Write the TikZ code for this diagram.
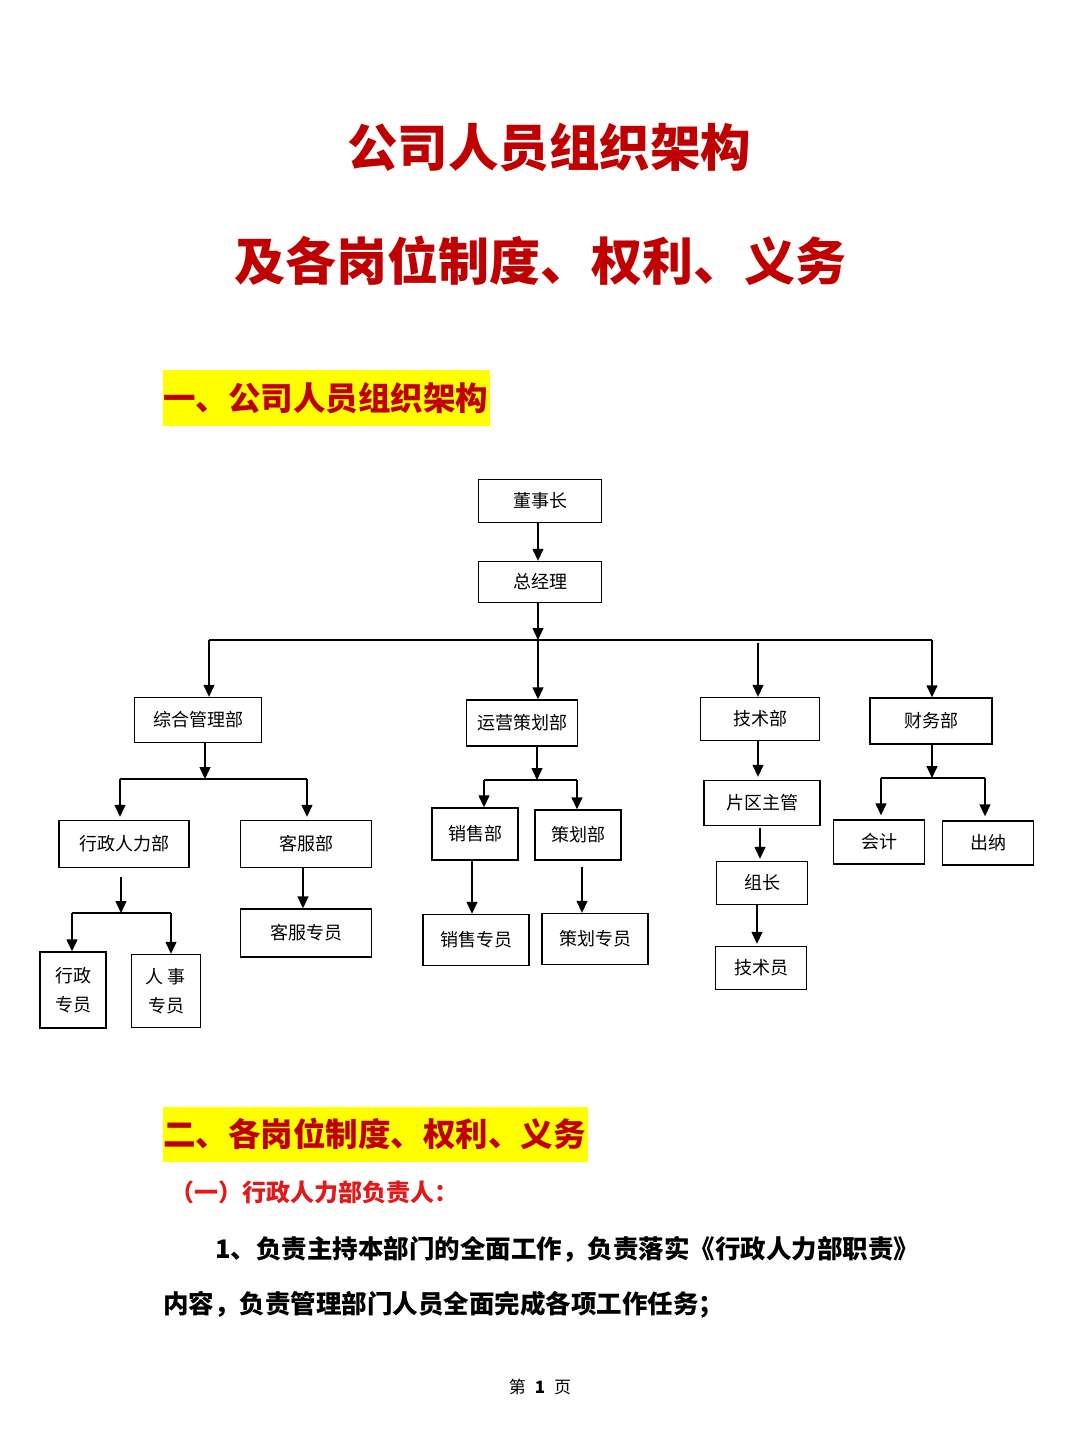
\documentclass[tikz,border=0pt]{standalone}
\usepackage{fontspec}
\newfontfamily\cjk{Noto Sans CJK SC}
\usepackage{tikz}
\usetikzlibrary{arrows.meta,positioning}
\definecolor{titlered}{RGB}{192,0,0}
\definecolor{subred}{RGB}{228,24,24}
\definecolor{hlyellow}{RGB}{255,255,0}

\begin{document}
\begin{tikzpicture}[x=1pt,y=-1pt,
    box/.style={draw, line width=1.4pt, inner sep=0pt, align=center,
        font=\cjk\fontsize{18}{29}\selectfont},
    arr/.style={-{Triangle[width=11pt,length=12pt]}, line width=1.4pt},
    bus/.style={line width=1.4pt},
    headline/.style={fill=hlyellow, inner xsep=0pt, inner ysep=0pt, anchor=west, align=left,
        text=titlered, font=\cjk\bfseries\fontsize{32.5}{36}\selectfont}]
    \useasboundingbox[fill=white] (0,0) rectangle (1080,1440);

    % titles
    \node[text=titlered, font=\cjk\bfseries\fontsize{50.5}{60}\selectfont] (title1) at (549,147) {公司人员组织架构};
    \node[text=titlered, font=\cjk\bfseries\fontsize{51}{60}\selectfont] (title2) at (540,261) {及各岗位制度、权利、义务};
    \node[headline, minimum height=56pt, text width=327pt] (head1) at (163,398) {一、公司人员组织架构};

    % top of the chart
    \node[box, minimum width=123pt, minimum height=43pt] (dongshi) at (540,501) {董事长};
    \node[box, minimum width=123pt, minimum height=41pt] (zongjl) at (540,582) {总经理};

    \node[box, minimum width=127pt, minimum height=45pt] (zonghe) at (198,720) {综合管理部};
    \node[box, minimum width=111pt, minimum height=46pt] (yunying) at (522,723) {运营策划部};
    \node[box, minimum width=119pt, minimum height=43pt] (jishu) at (760,719) {技术部};
    \node[box, minimum width=122pt, minimum height=46pt] (caiwu) at (931,721) {财务部};

    % second level
    \node[box, minimum width=130pt, minimum height=47pt] (xingzheng) at (124,844) {行政人力部};
    \node[box, minimum width=131pt, minimum height=47pt] (kefu) at (306,844) {客服部};
    \node[box, minimum width=66pt, minimum height=76pt] (xzzy) at (73,990) {行政\\专员};
    \node[box, minimum width=69pt, minimum height=73pt] (rszy) at (166,991) {人 事\\专员};
    \node[box, minimum width=131pt, minimum height=48pt] (kfzy) at (306,933) {客服专员};

    \node[box, minimum width=86pt, minimum height=52pt] (xiaoshou) at (475,834) {销售部};
    \node[box, minimum width=86pt, minimum height=50pt] (cehua) at (578,835) {策划部};
    \node[box, minimum width=106pt, minimum height=51pt] (xszy) at (476,940) {销售专员};
    \node[box, minimum width=106pt, minimum height=51pt] (chzy) at (595,939) {策划专员};

    \node[box, minimum width=116pt, minimum height=45pt] (pianqu) at (762,803) {片区主管};
    \node[box, minimum width=91pt, minimum height=43pt] (zuzhang) at (762,883) {组长};
    \node[box, minimum width=91pt, minimum height=43pt] (jishuyuan) at (761,968) {技术员};

    \node[box, minimum width=91pt, minimum height=44pt] (kuaiji) at (879,842) {会计};
    \node[box, minimum width=91pt, minimum height=44pt] (chuna) at (988,843) {出纳};

    % bus lines
    \coordinate (b0) at (538,640);
    \coordinate (b0L) at (209,640);
    \coordinate (b0R) at (932,640);
    \coordinate (b0J) at (758,643);
    \coordinate (b1) at (205,779);
    \coordinate (b1L) at (120,779);
    \coordinate (b1R) at (307,779);
    \coordinate (b2) at (121,913);
    \coordinate (b2L) at (72,913);
    \coordinate (b2R) at (171,913);
    \coordinate (b3) at (537,780);
    \coordinate (b3L) at (484,780);
    \coordinate (b3R) at (577,780);
    \coordinate (b4) at (932,778);
    \coordinate (b4L) at (881,778);
    \coordinate (b4R) at (985,778);

    \draw[bus] (b0L) -- (b0R);
    \draw[bus] (b1L) -- (b1R);
    \draw[bus] (b2L) -- (b2R);
    \draw[bus] (b3L) -- (b3R);
    \draw[bus] (b4L) -- (b4R);

    % arrows
    \draw[arr] (dongshi.south -| b0) -- (zongjl.north -| b0);
    \draw[arr] (zongjl.south -| b0) -- (b0);
    \draw[arr] (b0L) -- (b0L |- zonghe.north);
    \draw[arr] (b0) -- (b0 |- yunying.north);
    \draw[arr] (b0J) -- (b0J |- jishu.north);
    \draw[arr] (b0R) -- (b0R |- caiwu.north);

    \draw[arr] (zonghe.south -| b1) -- (b1);
    \draw[arr, shorten >=3pt] (b1L) -- (b1L |- xingzheng.north);
    \draw[arr, shorten >=3pt] (b1R) -- (b1R |- kefu.north);
    \draw[arr] ([yshift=-9pt]xingzheng.south -| b2) -- (b2);
    \draw[arr] (b2L) -- (b2L |- xzzy.north);
    \draw[arr] (b2R) -- (b2R |- rszy.north);
    \draw[arr] ([xshift=-3pt]kefu.south) -- ([xshift=-3pt]kfzy.north);

    \draw[arr] (yunying.south -| b3) -- (b3);
    \draw[arr] (b3L) -- (b3L |- xiaoshou.north);
    \draw[arr] (b3R) -- (b3R |- cehua.north);
    \draw[arr] ([xshift=-3pt]xiaoshou.south) -- ([xshift=-3pt]xiaoshou.south |- xszy.north);
    \draw[arr] ([xshift=4pt,yshift=-6pt]cehua.south) -- ([xshift=4pt]cehua.south |- chzy.north);

    \draw[arr, shorten >=3pt] ([xshift=-2pt]jishu.south) -- ([xshift=-2pt]jishu.south |- pianqu.north);
    \draw[arr, shorten <=2pt, shorten >=2pt] ([xshift=-2pt]pianqu.south) -- ([xshift=-2pt]pianqu.south |- zuzhang.north);
    \draw[arr, shorten >=2pt] ([xshift=-5pt]zuzhang.south) -- ([xshift=-5pt]zuzhang.south |- jishuyuan.north);

    \draw[arr] (caiwu.south -| b4) -- (b4);
    \draw[arr, shorten >=4pt] (b4L) -- (b4L |- kuaiji.north);
    \draw[arr, shorten >=4pt] (b4R) -- (b4R |- chuna.north);

    % second part
    \node[headline, minimum height=55pt, text width=425pt] (head2) at (163,1134) {二、各岗位制度、权利、义务};
    \node[anchor=west, inner sep=0pt, text=subred, font=\cjk\bfseries\fontsize{24}{28}\selectfont] (sub1) at (170,1192) {（一）行政人力部负责人：};
    \node[anchor=west, inner sep=0pt, font=\cjk\bfseries\fontsize{25.5}{30}\selectfont] (line1) at (215,1249) {1、负责主持本部门的全面工作，负责落实《行政人力部职责》};
    \node[anchor=west, inner sep=0pt, font=\cjk\bfseries\fontsize{25.5}{30}\selectfont] (line2) at (163,1305) {内容，负责管理部门人员全面完成各项工作任务；};
    \node[font=\cjk\fontsize{17}{20}\selectfont] (pageno) at (540,1387) {第\hspace{9pt}\textbf{1}\hspace{9pt}页};
\end{tikzpicture}
\end{document}
